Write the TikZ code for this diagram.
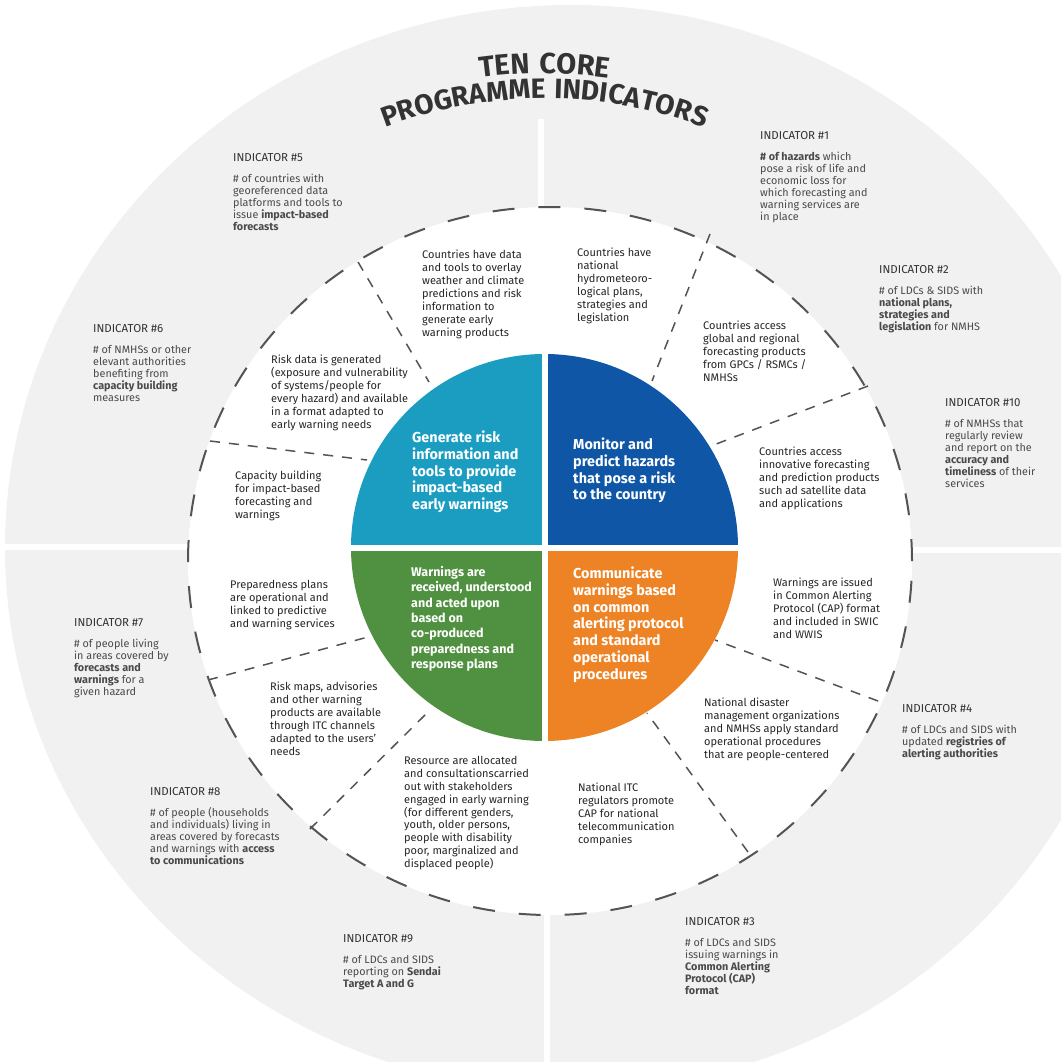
\documentclass[tikz,border=0pt]{standalone}
\usepackage{fontspec}
\setmainfont{Fira Sans}
\newfontfamily\ttlfamily[LetterSpace=6]{Fira Sans}
\newfontfamily\tenfamily[LetterSpace=8]{Fira Sans}
\newcommand\ttlfont{\ttlfamily\bfseries\fontsize{28}{32}\selectfont}
\newcommand\tenfont{\tenfamily\bfseries\fontsize{29}{32}\selectfont}
\usetikzlibrary{calc,decorations.text}

\definecolor{ringgray}{HTML}{F1F1F2}
\definecolor{dashgray}{HTML}{545454}
\definecolor{headgray}{HTML}{333333}
\definecolor{bodygray}{HTML}{4A4A4A}
\definecolor{darktext}{HTML}{262626}
\definecolor{qteal}{HTML}{1A9DC0}
\definecolor{qblue}{HTML}{0F57A6}
\definecolor{qgreen}{HTML}{4F9140}
\definecolor{qorange}{HTML}{EE8325}

\tikzset{
  indtext/.style={anchor=north west, inner sep=0pt, align=left, text=bodygray, font=\fontsize{10.8}{12.1}\selectfont},
  ringtext/.style={anchor=north west, inner sep=0pt, align=left, text=darktext, font=\fontsize{11}{12.9}\selectfont},
  quadtext/.style={anchor=north west, inner sep=0pt, align=left, text=white, font=\bfseries\fontsize{14.4}{16.7}\selectfont},
  sepline/.style={dashgray, line width=1.5pt, dash pattern=on 10pt off 9pt},
  ringdash/.style={dashgray, line width=2pt, dash pattern=on 22pt off 24pt},
  gapline/.style={white, line width=6pt},
}
\newcommand\indhead[1]{{\color{headgray}\fontsize{11.5}{12.1}\selectfont INDICATOR \##1}\\[9pt]}

\begin{document}
\begin{tikzpicture}[x=1pt, y=-1pt]
\useasboundingbox (0,0) rectangle (1061,1062);
\clip (0,0) rectangle (1061,1062);
\coordinate (G) at (571,548);
\coordinate (W) at (550,561);
\coordinate (O) at (544.5,547.5);

% grey ring with its four cuts
\fill[ringgray] (G) ellipse[x radius=566pt, y radius=543pt];
\draw[gapline] (541,119) -- (541,300);
\draw[gapline] (547,850) -- (547,1070);
\draw[gapline] (-5,546.5) -- (260,546.5);
\draw[gapline] (840,549.5) -- (1070,549.5);

% white ring
\fill[white] (W) ellipse[x radius=362pt, y radius=354pt];
\draw[ringdash] (W) ellipse[x radius=362pt, y radius=354pt];

% dashed separators
\draw[sepline] (358,262) -- (429,382);
\draw[sepline] (210,441) -- (367,460);
\draw[sepline] (208,680) -- (368,637);
\draw[sepline] (310,829) -- (429,711);
\draw[sepline] (748,852) -- (647,713);
\draw[sepline] (878,701) -- (715,640);
\draw[sepline] (868,386) -- (711,446);
\draw[sepline] (710,234) -- (652,381);

% four pillars
\fill[qteal] (O) -- ++(180:193.5pt) arc[start angle=180, end angle=90, radius=193.5pt] -- cycle;
\fill[qblue] (O) -- ++(90:193.5pt) arc[start angle=90, end angle=0, radius=193.5pt] -- cycle;
\fill[qorange] (O) -- ++(0:193.5pt) arc[start angle=0, end angle=-90, radius=193.5pt] -- cycle;
\fill[qgreen] (O) -- ++(-90:193.5pt) arc[start angle=-90, end angle=-180, radius=193.5pt] -- cycle;
\draw[gapline] (544.5,345) -- (544.5,750);
\draw[gapline] (345,547.5) -- (745,547.5);

% title
\path[decorate, decoration={text along path, text align=center, text color=headgray,
  text={|\tenfont|TEN CORE}}] ($(O)+(120:474pt)$) arc[start angle=120, end angle=60, radius=474pt];
\path[decorate, decoration={text along path, text align=center, text color=headgray,
  text={|\ttlfont|PROGRAMME INDICATORS}}] ($(O)+(150:449pt)$) arc[start angle=150, end angle=30, radius=449pt];

% pillar texts
\node (gen) [quadtext] at (412,431) {Generate risk\\information and\\tools to provide\\impact-based\\early warnings};
\node (mon) [quadtext] at (573,438) {Monitor and\\predict hazards\\that pose a risk\\to the country};
\node (warn) [quadtext, font=\bfseries\fontsize{12.5}{15.4}\selectfont] at (411,566) {Warnings are\\received, understood\\and acted upon\\based on\\co-produced\\preparedness and\\response plans};
\node (com) [quadtext] at (573,567) {Communicate\\warnings based\\on common\\alerting protocol\\and standard\\operational\\procedures};

% white ring texts
\node (overlay) [ringtext] at (422,250) {Countries have data\\and tools to overlay\\weather and climate\\predictions and risk\\information to\\generate early\\warning products};
\node (riskdata) [ringtext] at (271,355) {Risk data is generated\\(exposure and vulnerability\\of systems/people for\\every hazard) and available\\in a format adapted to\\early warning needs};
\node (capbuild) [ringtext] at (235,471) {Capacity building\\for impact-based\\forecasting and\\warnings};
\node (natplans) [ringtext] at (577,248) {Countries have\\national\\hydrometeoro-\\logical plans,\\strategies and\\legislation};
\node (globalprod) [ringtext] at (703,321) {Countries access\\global and regional\\forecasting products\\from GPCs / RSMCs /\\NMHSs};
\node (satprod) [ringtext] at (759,447) {Countries access\\innovative forecasting\\and prediction products\\such ad satellite data\\and applications};
\node (capissue) [ringtext] at (773,578) {Warnings are issued\\in Common Alerting\\Protocol (CAP) format\\and included in SWIC\\and WWIS};
\node (sopproc) [ringtext] at (704,698) {National disaster\\management organizations\\and NMHSs apply standard\\operational procedures\\that are people-centered};
\node (itcreg) [ringtext] at (578,783) {National ITC\\regulators promote\\CAP for national\\telecommunication\\companies};
\node (resalloc) [ringtext] at (404,756) {Resource are allocated\\and consultationscarried\\out with stakeholders\\engaged in early warning\\(for different genders,\\youth, older persons,\\people with disability\\poor, marginalized and\\displaced people)};
\node (riskmaps) [ringtext] at (270,682) {Risk maps, advisories\\and other warning\\products are available\\through ITC channels\\adapted to the users'\\needs};
\node (prepplans) [ringtext] at (230,580) {Preparedness plans\\are operational and\\linked to predictive\\and warning services};

% indicators
\node (ind1) [indtext] at (760,131) {\indhead{1}\textbf{\# of hazards} which\\pose a risk of life and\\economic loss for\\which forecasting and\\warning services are\\in place};
\node (ind2) [indtext] at (879,265) {\indhead{2}\# of LDCs \& SIDS with\\\textbf{national plans,}\\\textbf{strategies and}\\\textbf{legislation} for NMHS};
\node (ind10) [indtext] at (945,398) {\indhead{10}\# of NMHSs that\\regularly review\\and report on the\\\textbf{accuracy and}\\\textbf{timeliness} of their\\services};
\node (ind4) [indtext] at (902,704) {\indhead{4}\# of LDCs and SIDS with\\updated \textbf{registries of}\\\textbf{alerting authorities}};
\node (ind3) [indtext] at (685,917) {\indhead{3}\# of LDCs and SIDS\\issuing warnings in\\\textbf{Common Alerting}\\\textbf{Protocol (CAP)}\\\textbf{format}};
\node (ind9) [indtext] at (343,934) {\indhead{9}\# of LDCs and SIDS\\reporting on \textbf{Sendai}\\\textbf{Target A and G}};
\node (ind8) [indtext] at (150,787) {\indhead{8}\# of people (households\\and individuals) living in\\areas covered by forecasts\\and warnings with \textbf{access}\\\textbf{to communications}};
\node (ind7) [indtext] at (74,618) {\indhead{7}\# of people living\\in areas covered by\\\textbf{forecasts and}\\\textbf{warnings} for a\\given hazard};
\node (ind6) [indtext] at (93,324) {\indhead{6}\# of NMHSs or other\\elevant authorities\\benefiting from\\\textbf{capacity building}\\measures};
\node (ind5) [indtext] at (233,153) {\indhead{5}\# of countries with\\georeferenced data\\platforms and tools to\\issue \textbf{impact-based}\\\textbf{forecasts}};
\end{tikzpicture}
\end{document}
